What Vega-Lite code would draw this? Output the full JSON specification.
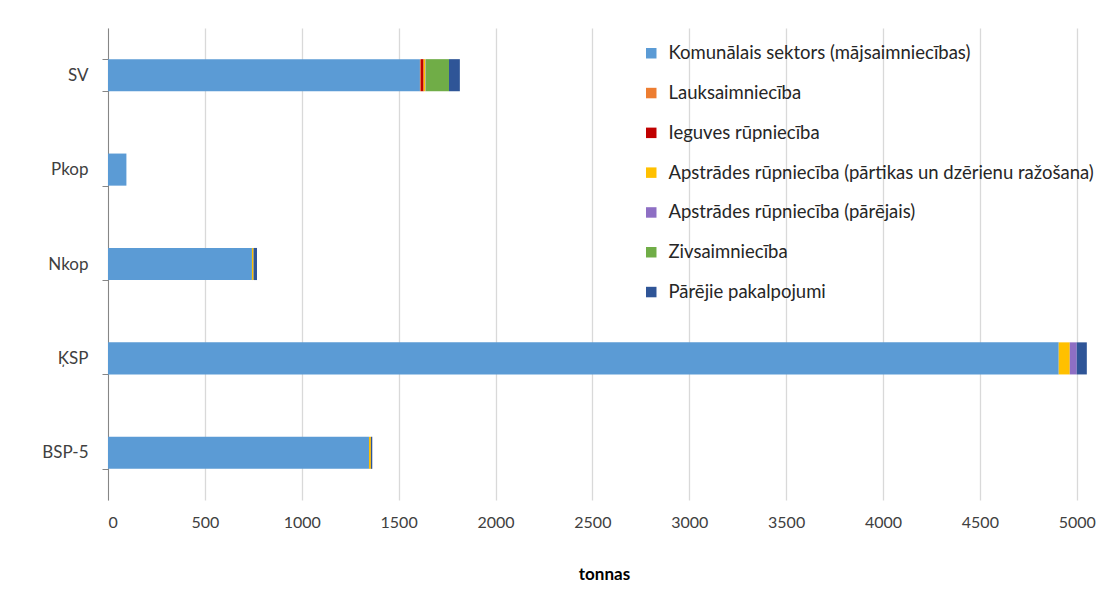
{
  "$schema": "https://vega.github.io/schema/vega-lite/v6.json",
  "width": 992,
  "height": 472,
  "autosize": {"type": "none"},
  "padding": {"left": 108, "top": 28, "right": 17, "bottom": 95},
  "background": "white",
  "config": {
    "font": "Lato",
    "view": {"stroke": null}
  },
  "data": {
    "values": [
      {"vieta": "SV", "nozare": "Komunālais sektors (mājsaimniecības)", "tonnas": 1610},
      {"vieta": "SV", "nozare": "Lauksaimniecība", "tonnas": 4},
      {"vieta": "SV", "nozare": "Ieguves rūpniecība", "tonnas": 15},
      {"vieta": "SV", "nozare": "Apstrādes rūpniecība (pārtikas un dzērienu ražošana)", "tonnas": 9},
      {"vieta": "SV", "nozare": "Apstrādes rūpniecība (pārējais)", "tonnas": 2},
      {"vieta": "SV", "nozare": "Zivsaimniecība", "tonnas": 120},
      {"vieta": "SV", "nozare": "Pārējie pakalpojumi", "tonnas": 56},
      {"vieta": "Pkop", "nozare": "Komunālais sektors (mājsaimniecības)", "tonnas": 95},
      {"vieta": "Nkop", "nozare": "Komunālais sektors (mājsaimniecības)", "tonnas": 743},
      {"vieta": "Nkop", "nozare": "Apstrādes rūpniecība (pārtikas un dzērienu ražošana)", "tonnas": 8},
      {"vieta": "Nkop", "nozare": "Pārējie pakalpojumi", "tonnas": 18},
      {"vieta": "ĶSP", "nozare": "Komunālais sektors (mājsaimniecības)", "tonnas": 4907},
      {"vieta": "ĶSP", "nozare": "Apstrādes rūpniecība (pārtikas un dzērienu ražošana)", "tonnas": 57},
      {"vieta": "ĶSP", "nozare": "Apstrādes rūpniecība (pārējais)", "tonnas": 36},
      {"vieta": "ĶSP", "nozare": "Pārējie pakalpojumi", "tonnas": 52},
      {"vieta": "BSP-5", "nozare": "Komunālais sektors (mājsaimniecības)", "tonnas": 1347},
      {"vieta": "BSP-5", "nozare": "Apstrādes rūpniecība (pārtikas un dzērienu ražošana)", "tonnas": 10},
      {"vieta": "BSP-5", "nozare": "Pārējie pakalpojumi", "tonnas": 7}
    ]
  },
  "transform": [
    {"calculate": "indexof(['Komunālais sektors (mājsaimniecības)','Lauksaimniecība','Ieguves rūpniecība','Apstrādes rūpniecība (pārtikas un dzērienu ražošana)','Apstrādes rūpniecība (pārējais)','Zivsaimniecība','Pārējie pakalpojumi'], datum.nozare)", "as": "seciba"}
  ],
  "mark": {"type": "bar"},
  "encoding": {
    "y": {
      "field": "vieta",
      "type": "nominal",
      "sort": ["SV", "Pkop", "Nkop", "ĶSP", "BSP-5"],
      "scale": {"paddingInner": 0.66, "paddingOuter": 0.33},
      "axis": {
        "title": null,
        "tickBand": "extent",
        "domainColor": "#868686",
        "tickColor": "#868686",
        "tickSize": 6,
        "labelFontSize": 17,
        "labelColor": "#404040",
        "labelPadding": 14,
        "grid": false
      }
    },
    "x": {
      "field": "tonnas",
      "type": "quantitative",
      "stack": "zero",
      "scale": {"domain": [0, 5120], "nice": false},
      "axis": {
        "title": "tonnas",
        "titleFontSize": 17,
        "titleFontWeight": "bold",
        "titleColor": "#000000",
        "titlePadding": 36,
        "values": [0, 500, 1000, 1500, 2000, 2500, 3000, 3500, 4000, 4500, 5000],
        "format": "d",
        "domain": false,
        "ticks": false,
        "labelFontSize": 16,
        "labelColor": "#404040",
        "labelPadding": 14,
        "grid": true,
        "gridColor": "#D9D9D9",
        "gridWidth": 1.3
      }
    },
    "order": {"field": "seciba", "type": "quantitative", "sort": "ascending"},
    "color": {
      "field": "nozare",
      "type": "nominal",
      "sort": [
        "Komunālais sektors (mājsaimniecības)",
        "Lauksaimniecība",
        "Ieguves rūpniecība",
        "Apstrādes rūpniecība (pārtikas un dzērienu ražošana)",
        "Apstrādes rūpniecība (pārējais)",
        "Zivsaimniecība",
        "Pārējie pakalpojumi"
      ],
      "scale": {
        "domain": [
          "Komunālais sektors (mājsaimniecības)",
          "Lauksaimniecība",
          "Ieguves rūpniecība",
          "Apstrādes rūpniecība (pārtikas un dzērienu ražošana)",
          "Apstrādes rūpniecība (pārējais)",
          "Zivsaimniecība",
          "Pārējie pakalpojumi"
        ],
        "range": ["#5B9BD5", "#ED7D31", "#C00000", "#FFC000", "#8E6FC4", "#70AD47", "#2F5597"]
      },
      "legend": {
        "title": null,
        "orient": "none",
        "legendX": 534,
        "legendY": 16,
        "symbolType": "square",
        "symbolSize": 110,
        "symbolStrokeWidth": 0,
        "labelFontSize": 18.5,
        "labelColor": "#262626",
        "labelLimit": 600,
        "labelOffset": 8,
        "rowPadding": 20.8
      }
    }
  }
}
